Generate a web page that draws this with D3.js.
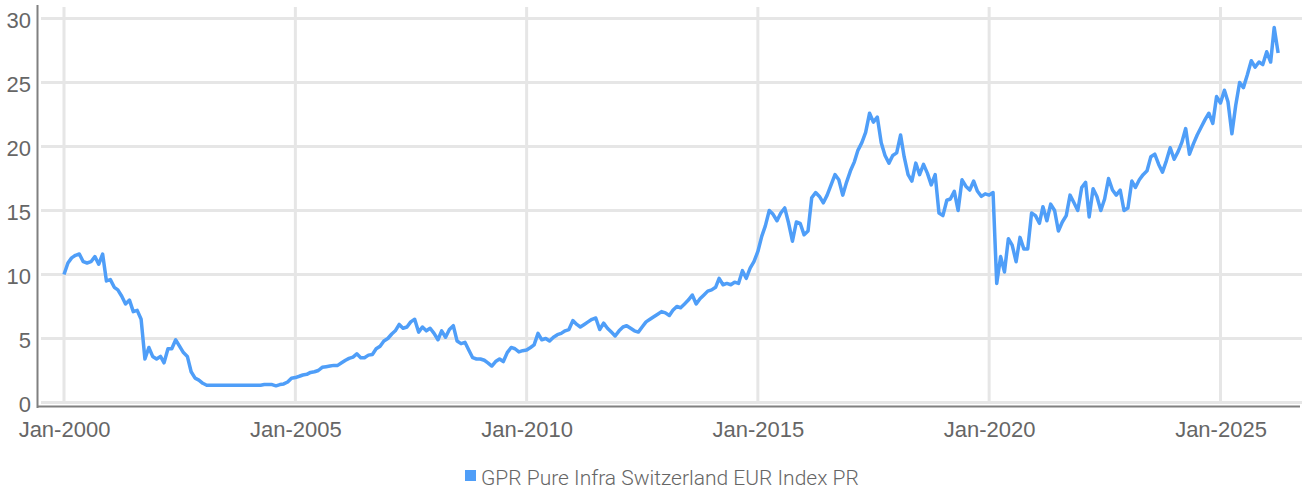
<!DOCTYPE html>
<meta charset="utf-8">
<style>
body { margin: 0; background: #fff; }
svg { display: block; font-family: Roboto, "Noto Sans", sans-serif; font-weight: 300; }
.grid line { stroke: #e6e6e6; stroke-width: 3; }
.axis text { fill: #666; font-size: 22px; }
.legend text { fill: #666; font-size: 21px; }
</style>
<svg width="1302" height="491"></svg>
<script src="https://cdn.jsdelivr.net/npm/d3@7"></script>
<script>

// monthly readings, one small array per year (Jan..Dec)
var y2000 = [10.0, 10.9, 11.3, 11.5, 11.6, 11.0, 10.9, 11.0, 11.4, 10.8, 11.6, 9.5];
var y2001 = [9.6, 9.0, 8.8, 8.3, 7.7, 8.0, 7.1, 7.2, 6.5, 3.4, 4.3, 3.6];
var y2002 = [3.4, 3.6, 3.1, 4.2, 4.2, 4.9, 4.4, 3.9, 3.6, 2.4, 1.9, 1.75];
var y2003 = [1.5, 1.35, 1.35, 1.35, 1.35, 1.35, 1.35, 1.35, 1.35, 1.35, 1.35, 1.35];
var y2004 = [1.35, 1.35, 1.35, 1.35, 1.4, 1.4, 1.4, 1.3, 1.4, 1.45, 1.6, 1.9];
var y2005 = [1.95, 2.05, 2.15, 2.2, 2.35, 2.4, 2.5, 2.75, 2.8, 2.85, 2.9, 2.9];
var y2006 = [3.1, 3.3, 3.45, 3.55, 3.8, 3.5, 3.5, 3.7, 3.75, 4.2, 4.4, 4.8];
var y2007 = [5.0, 5.35, 5.6, 6.1, 5.8, 5.9, 6.3, 6.5, 5.5, 5.9, 5.6, 5.8];
var y2008 = [5.4, 4.9, 5.6, 5.1, 5.7, 6.0, 4.8, 4.6, 4.7, 4.1, 3.5, 3.4];
var y2009 = [3.4, 3.3, 3.1, 2.85, 3.2, 3.4, 3.2, 3.9, 4.3, 4.2, 3.95, 4.05];
var y2010 = [4.1, 4.3, 4.5, 5.4, 4.9, 5.0, 4.8, 5.1, 5.3, 5.4, 5.6, 5.7];
var y2011 = [6.4, 6.1, 5.9, 6.1, 6.3, 6.5, 6.6, 5.7, 6.2, 5.8, 5.5, 5.2];
var y2012 = [5.6, 5.9, 6.0, 5.8, 5.6, 5.5, 5.9, 6.3, 6.5, 6.7, 6.9, 7.1];
var y2013 = [7.0, 6.8, 7.2, 7.5, 7.4, 7.7, 8.0, 8.4, 7.7, 8.1, 8.4, 8.7];
var y2014 = [8.8, 9.0, 9.7, 9.2, 9.3, 9.2, 9.4, 9.3, 10.3, 9.7, 10.5, 11.0];
var y2015 = [11.8, 13.0, 13.8, 15.0, 14.7, 14.2, 14.8, 15.2, 14.0, 12.6, 14.1, 14.0];
var y2016 = [13.1, 13.4, 16.0, 16.4, 16.1, 15.6, 16.2, 17.0, 17.8, 17.4, 16.2, 17.2];
var y2017 = [18.1, 18.8, 19.7, 20.3, 21.1, 22.6, 21.9, 22.3, 20.3, 19.3, 18.7, 19.3];
var y2018 = [19.5, 20.9, 19.2, 17.8, 17.3, 18.7, 17.8, 18.6, 17.9, 17.0, 17.8, 14.8];
var y2019 = [14.6, 15.8, 15.9, 16.5, 15.0, 17.4, 16.9, 16.6, 17.3, 16.5, 16.1, 16.3];
var y2020 = [16.2, 16.4, 9.3, 11.4, 10.2, 12.8, 12.3, 11.0, 12.9, 12.0, 12.0, 14.8];
var y2021 = [14.6, 14.0, 15.3, 14.2, 15.5, 15.0, 13.4, 14.1, 14.6, 16.2, 15.6, 15.0];
var y2022 = [16.8, 17.2, 14.5, 16.7, 16.1, 15.0, 15.9, 17.5, 16.6, 16.2, 16.6, 15.0];
var y2023 = [15.2, 17.3, 16.8, 17.4, 17.8, 18.1, 19.2, 19.4, 18.6, 18.0, 18.9, 19.9];
var y2024 = [19.0, 19.6, 20.3, 21.4, 19.4, 20.2, 20.9, 21.5, 22.1, 22.6, 21.8, 23.9];
var y2025 = [23.4, 24.4, 23.5, 21.0, 23.2, 25.0, 24.6, 25.6, 26.7, 26.2, 26.6, 26.4];
var y2026 = [27.4, 26.6, 29.3, 27.3];

var years = [y2000, y2001, y2002, y2003, y2004, y2005, y2006, y2007, y2008, y2009,
             y2010, y2011, y2012, y2013, y2014, y2015, y2016, y2017, y2018, y2019,
             y2020, y2021, y2022, y2023, y2024, y2025, y2026];

var yTicks = [0, 5, 10, 15, 20, 25, 30];
var xTickYears = [2000, 2005, 2010, 2015, 2020, 2025];
var seriesName = "GPR Pure Infra Switzerland EUR Index PR";

var data = [];
years.forEach(function(arr, i) {
  arr.forEach(function(v, m) {
    data.push({ date: new Date(2000 + i, m, 1), value: v });
  });
});

var svg = d3.select("svg");

var x = d3.scaleTime()
    .domain([new Date(2000, 0, 1), new Date(2025, 0, 1)])
    .range([64, 1220.5]);

var y = d3.scaleLinear()
    .domain([0, 30])
    .range([402.5, 18.5]);

// grid
var grid = svg.append("g").attr("class", "grid");
grid.selectAll(".h")
  .data(yTicks)
  .enter().append("line")
    .attr("class", "h")
    .attr("x1", 41).attr("x2", 1302)
    .attr("y1", function(d) { return y(d); })
    .attr("y2", function(d) { return y(d); });
grid.selectAll(".v")
  .data(xTickYears)
  .enter().append("line")
    .attr("class", "v")
    .attr("x1", function(d) { return x(new Date(d, 0, 1)); })
    .attr("x2", function(d) { return x(new Date(d, 0, 1)); })
    .attr("y1", 7).attr("y2", 403);

// line
var line = d3.line()
    .x(function(d) { return x(d.date); })
    .y(function(d) { return y(d.value); });

svg.append("path")
    .datum(data)
    .attr("fill", "none")
    .attr("stroke", "#4f9ef8")
    .attr("stroke-width", 3.5)
    .attr("stroke-linejoin", "round")
    .attr("d", line);

// axes
var yAxis = svg.append("g")
    .attr("class", "axis")
    .attr("transform", "translate(37,0)")
    .call(d3.axisLeft(y).tickValues(yTicks).tickSize(0).tickPadding(6));
yAxis.select(".domain").remove();
yAxis.selectAll("text").attr("dy", "0.4em");

var xAxis = svg.append("g")
    .attr("class", "axis")
    .attr("transform", "translate(0,407)")
    .call(d3.axisBottom(x)
      .tickValues(xTickYears.map(function(d) { return new Date(d, 0, 1); }))
      .tickFormat(d3.timeFormat("%b-%Y"))
      .tickSize(0).tickPadding(14));
xAxis.select(".domain").remove();

svg.append("line")
    .attr("x1", 37.5).attr("x2", 37.5)
    .attr("y1", 5).attr("y2", 408)
    .attr("stroke", "#808080").attr("stroke-width", 2);
svg.append("line")
    .attr("x1", 37).attr("x2", 1300)
    .attr("y1", 406.5).attr("y2", 406.5)
    .attr("stroke", "#808080").attr("stroke-width", 2);

// legend
var legend = svg.append("g").attr("class", "legend");
legend.append("rect")
    .attr("x", 465).attr("y", 470)
    .attr("width", 11).attr("height", 11)
    .attr("fill", "#4f9ef8");
legend.append("text")
    .attr("x", 481).attr("y", 485)
    .text(seriesName);

</script>
